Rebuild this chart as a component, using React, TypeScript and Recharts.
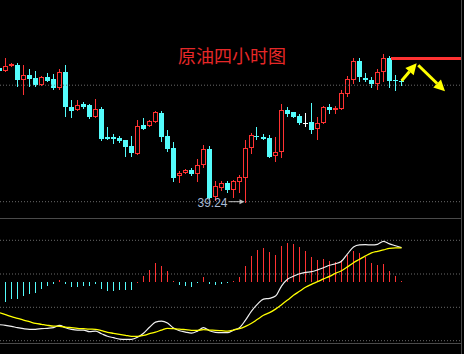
import React from 'react';
import { ComposedChart, Bar, Line, XAxis, YAxis, ReferenceLine, ReferenceDot } from 'recharts';

// ---- Candle data (4-hour crude oil) ----
const OPEN = [
  41.91, 41.86, 41.95, 41.97, 41.68, 41.77, 41.71, 41.58, 41.73, 41.69,
  41.51, 41.83, 41.13, 41.08, 41.20, 41.18, 40.94, 41.09, 40.53, 40.54,
  40.51, 40.47, 40.35, 40.20, 40.78, 40.75, 40.84, 41.01, 40.55, 40.31,
  39.75, 39.81, 39.87, 39.80, 39.98, 40.29, 39.33, 39.51, 39.61, 39.47,
  39.63, 39.72, 40.31, 40.55, 40.53, 40.51, 40.15, 40.23, 41.07, 41.03,
  40.95, 40.82, 40.83, 40.69, 40.81, 41.13, 41.08, 41.10, 41.40, 41.68,
  42.05, 41.72, 41.67, 41.60, 41.83, 42.11, 41.67, 41.65,
];
const CLOSE = [
  41.86, 41.95, 41.99, 41.67, 41.77, 41.70, 41.57, 41.73, 41.66, 41.52,
  41.83, 41.14, 41.06, 41.17, 41.14, 40.94, 41.09, 40.50, 40.50, 40.50,
  40.45, 40.34, 40.21, 40.75, 40.70, 40.85, 41.03, 40.54, 40.29, 39.71,
  39.82, 39.87, 39.80, 39.97, 40.29, 39.31, 39.55, 39.61, 39.47, 39.65,
  39.73, 40.31, 40.57, 40.53, 40.50, 40.14, 40.23, 41.07, 40.99, 40.94,
  40.82, 40.82, 40.68, 40.81, 41.13, 41.07, 41.11, 41.41, 41.69, 42.05,
  41.74, 41.68, 41.60, 41.83, 42.11, 41.66, 41.65, 41.63,
];
const HIGH = [
  41.93, 42.11, 42.01, 42.01, 41.97, 41.89, 41.85, 41.75, 41.81, 41.79,
  41.89, 41.97, 41.27, 41.27, 41.23, 41.20, 41.29, 41.13, 40.73, 40.59,
  40.56, 40.47, 40.55, 40.87, 40.91, 40.87, 41.05, 41.05, 40.67, 40.43,
  39.86, 39.89, 39.91, 40.09, 40.38, 40.35, 39.65, 39.65, 39.65, 39.68,
  39.77, 40.47, 40.61, 40.73, 40.59, 40.57, 40.53, 41.19, 41.13, 41.03,
  41.00, 41.01, 41.21, 40.93, 41.16, 41.19, 41.16, 41.47, 41.75, 42.11,
  42.11, 41.81, 41.73, 41.89, 42.19, 42.15, 41.78, 41.70,
];
const LOW = [
  41.85, 41.86, 41.95, 41.56, 41.39, 41.56, 41.56, 41.57, 41.66, 41.50,
  41.49, 40.96, 40.93, 41.08, 41.12, 40.92, 40.94, 40.47, 40.50, 40.41,
  40.43, 40.16, 40.16, 40.20, 40.70, 40.75, 40.83, 40.46, 40.26, 39.66,
  39.64, 39.81, 39.78, 39.66, 39.94, 39.31, 39.27, 39.47, 39.44, 39.33,
  39.43, 39.24, 40.22, 40.49, 40.50, 40.14, 40.06, 40.13, 40.96, 40.94,
  40.79, 40.76, 40.62, 40.50, 40.81, 41.02, 41.02, 41.10, 41.35, 41.62,
  41.65, 41.66, 41.54, 41.50, 41.66, 41.53, 41.47, 41.58,
];

// ---- MACD ----
const DIF = [
  -0.216, -0.219, -0.224, -0.231, -0.236, -0.239, -0.239, -0.236, -0.234, -0.231,
  -0.219, -0.231, -0.239, -0.243, -0.243, -0.251, -0.248, -0.261, -0.274, -0.281,
  -0.288, -0.289, -0.289, -0.279, -0.259, -0.229, -0.203, -0.198, -0.208, -0.233,
  -0.246, -0.253, -0.258, -0.248, -0.231, -0.246, -0.254, -0.256, -0.256, -0.243,
  -0.231, -0.193, -0.148, -0.113, -0.088, -0.084, -0.073, -0.023, 0.011, 0.026,
  0.039, 0.046, 0.049, 0.058, 0.069, 0.081, 0.089, 0.101, 0.138, 0.173,
  0.183, 0.184, 0.183, 0.186, 0.201, 0.188, 0.179, 0.169,
];
const DEA = [
  -0.156, -0.166, -0.176, -0.184, -0.193, -0.201, -0.209, -0.214, -0.219, -0.223,
  -0.224, -0.228, -0.231, -0.234, -0.236, -0.238, -0.239, -0.246, -0.254, -0.259,
  -0.264, -0.269, -0.274, -0.274, -0.269, -0.261, -0.253, -0.243, -0.234, -0.236,
  -0.238, -0.241, -0.244, -0.244, -0.241, -0.243, -0.244, -0.246, -0.248, -0.243,
  -0.236, -0.224, -0.209, -0.189, -0.169, -0.156, -0.138, -0.116, -0.093, -0.069,
  -0.049, -0.029, -0.014, -0.001, 0.013, 0.026, 0.041, 0.054, 0.073, 0.094,
  0.111, 0.128, 0.143, 0.151, 0.158, 0.166, 0.168, 0.168,
];
const MACD_HIST = [
  -0.110, -0.101, -0.088, -0.088, -0.073, -0.061, -0.056, -0.038, -0.021, -0.013,
  0.008, -0.013, -0.028, -0.028, -0.023, -0.023, -0.013, -0.038, -0.048, -0.048,
  -0.043, -0.043, -0.043, 0, 0.029, 0.058, 0.093, 0.078, 0.053, 0.003,
  -0.018, -0.023, -0.028, -0.008, 0.023, -0.013, -0.018, -0.013, -0.008, 0.003,
  0.023, 0.078, 0.128, 0.158, 0.168, 0.148, 0.133, 0.178, 0.193, 0.188,
  0.173, 0.153, 0.123, 0.108, 0.113, 0.103, 0.098, 0.108, 0.133, 0.153,
  0.143, 0.123, 0.093, 0.083, 0.088, 0.053, 0.028, 0.003,
];

// ---- annotations / axes ----
const TITLE = '原油四小时图';
const PRICE_GRID = [41.57, 39.24];
const MACD_GRID = [0.206, 0.0375, -0.129, -0.296];
const RESISTANCE = { from: 65.25, price: 42.11 };
const ARROWS = [
  { from: [67.03, 41.66], to: [69.53, 42.01] },
  { from: [69.8, 41.97], to: [74.25, 41.45] },
];
const X_DOMAIN: [number, number] = [1 / 12, 77 + 1 / 12];
const PRICE_DOMAIN: [number, number] = [38.914, 43.274];
const MACD_DOMAIN: [number, number] = [-0.3075, 0.3175];

const RED = '#ff3232';
const CYAN = '#54fcfc';
const GRID = '#6a6a6a';
const FRAME = '#4a4a4a';

const candles = OPEN.map((o, i) => ({
  i,
  open: o,
  close: CLOSE[i],
  high: HIGH[i],
  low: LOW[i],
}));
const macd = DIF.map((d, i) => ({ i, dif: d, dea: DEA[i], hist: MACD_HIST[i] }));

const lowIdx = LOW.indexOf(Math.min(...LOW));

function Candle(props: any) {
  const { x, y, width, height, payload } = props;
  if (!payload || x == null || y == null) return null;
  const { open, close, high, low } = payload;
  const span = high - low;
  const k = span > 0 ? height / span : 0;
  const yO = y + (high - open) * k;
  const yC = y + (high - close) * k;
  const top = Math.round(Math.min(yO, yC));
  const bot = Math.round(Math.max(yO, yC));
  const X = Math.round(x);
  const w = Math.round(width);
  const cx = X + (w - 1) / 2 + 0.5;
  const yH = Math.round(y);
  const yL = Math.round(y + height);
  const up = close > open;
  const doji = close === open;
  const color = doji ? '#ffffff' : up ? RED : CYAN;
  if (doji || bot - top < 1) {
    return (
      <g shapeRendering="crispEdges">
        <line x1={cx} x2={cx} y1={yH} y2={yL + 1} stroke={color} />
        <rect x={X} y={top} width={w} height={1} fill={color} />
      </g>
    );
  }
  if (up) {
    return (
      <g shapeRendering="crispEdges">
        <line x1={cx} x2={cx} y1={yH} y2={top} stroke={color} />
        <line x1={cx} x2={cx} y1={bot} y2={yL + 1} stroke={color} />
        <rect x={X + 0.5} y={top + 0.5} width={w - 1} height={Math.max(bot - top - 1, 0)} fill="#000" stroke={color} />
      </g>
    );
  }
  return (
    <g shapeRendering="crispEdges">
      <line x1={cx} x2={cx} y1={yH} y2={yL + 1} stroke={color} />
      <rect x={X} y={top} width={w} height={bot - top} fill={color} />
    </g>
  );
}

function HistBar(props: any) {
  const { x, y, width, height, payload } = props;
  if (!payload || x == null || y == null || height == null) return null;
  const y0 = Math.round(Math.min(y, y + height));
  const y1 = Math.round(Math.max(y, y + height));
  const h = Math.max(y1 - y0, 1);
  const X = Math.round(x + width / 2 - 0.5);
  return (
    <rect
      x={X}
      y={y0}
      width={1}
      height={h}
      fill={payload.hist >= 0 ? RED : CYAN}
      shapeRendering="crispEdges"
    />
  );
}

function ArrowShape(props: any) {
  const { x1, y1, x2, y2 } = props;
  if ([x1, y1, x2, y2].some((v) => v == null || isNaN(v))) return null;
  const a = Math.atan2(y2 - y1, x2 - x1);
  const L = 11;
  const W = 5.5;
  const bx = x2 - L * Math.cos(a);
  const by = y2 - L * Math.sin(a);
  const px = -Math.sin(a) * W;
  const py = Math.cos(a) * W;
  return (
    <g>
      <line x1={x1} y1={y1} x2={bx} y2={by} stroke="#ffff00" strokeWidth={3} />
      <polygon points={`${x2},${y2} ${bx + px},${by + py} ${bx - px},${by - py}`} fill="#ffff00" />
    </g>
  );
}

function FlatLine(props: any) {
  const { x1, y1, x2 } = props;
  if (x1 == null || y1 == null || x2 == null) return null;
  const yy = Math.round(y1 - 1.5);
  return <rect x={Math.round(x1)} y={yy} width={Math.round(x2 - x1)} height={3} fill={RED} shapeRendering="crispEdges" />;
}

function LowMark(props: any) {
  const { cx, cy } = props;
  if (cx == null || cy == null) return null;
  return (
    <g>
      <text
        x={cx - 18}
        y={cy + 5}
        textAnchor="end"
        fontFamily="'Liberation Sans', Arial, sans-serif"
        fontSize={12}
        fill="#a9bcd6"
      >
        {LOW[lowIdx].toFixed(2)}
      </text>
      <line x1={cx - 16.5} y1={cy} x2={cx - 5} y2={cy} stroke="#c0c0c0" strokeWidth={1} />
      <polygon points={`${cx - 1},${cy} ${cx - 6},${cy - 2.5} ${cx - 6},${cy + 2.5}`} fill="#c0c0c0" />
    </g>
  );
}

export default function App() {
  return (
    <div
      style={{
        position: 'absolute',
        left: 0,
        top: 0,
        width: 464,
        height: 354,
        background: '#000',
        overflow: 'hidden',
      }}
    >
      <div style={{ position: 'absolute', left: 0, top: 0 }}>
        <ComposedChart width={462} height={218} data={candles} margin={{ top: 0, right: 0, bottom: 0, left: 0 }}>
          <XAxis dataKey="i" type="number" domain={X_DOMAIN} allowDataOverflow hide />
          <YAxis type="number" domain={PRICE_DOMAIN} allowDataOverflow hide />
          {PRICE_GRID.map((p) => (
            <ReferenceLine key={p} y={p} stroke={GRID} strokeDasharray="1 2" ifOverflow="visible" />
          ))}
          <Bar
            dataKey={(d: any) => [d.low, d.high]}
            barSize={5}
            shape={<Candle />}
            isAnimationActive={false}
          />
          <ReferenceLine
            segment={[
              { x: RESISTANCE.from, y: RESISTANCE.price },
              { x: X_DOMAIN[1], y: RESISTANCE.price },
            ]}
            ifOverflow="visible"
            shape={FlatLine}
          />
          {ARROWS.map((a, k) => (
            <ReferenceLine
              key={k}
              segment={[
                { x: a.from[0], y: a.from[1] },
                { x: a.to[0], y: a.to[1] },
              ]}
              ifOverflow="visible"
              shape={ArrowShape}
            />
          ))}
          <ReferenceDot x={lowIdx} y={LOW[lowIdx]} r={0} ifOverflow="visible" shape={LowMark} />
        </ComposedChart>
      </div>

      <div
        style={{
          position: 'absolute',
          left: 178,
          top: 46,
          fontFamily: "'Noto Sans CJK SC', sans-serif",
          fontSize: 18,
          lineHeight: '18px',
          color: '#e62828',
          whiteSpace: 'nowrap',
        }}
      >
        {TITLE}
      </div>

      <div style={{ position: 'absolute', left: 0, top: 218 }}>
        <ComposedChart width={462} height={125} data={macd} margin={{ top: 0, right: 0, bottom: 0, left: 0 }}>
          <XAxis dataKey="i" type="number" domain={X_DOMAIN} allowDataOverflow hide />
          <YAxis type="number" domain={MACD_DOMAIN} allowDataOverflow hide />
          {MACD_GRID.map((v) => (
            <ReferenceLine key={v} y={v} stroke={GRID} strokeDasharray="1 2" ifOverflow="visible" />
          ))}
          <Bar dataKey="hist" barSize={1} shape={<HistBar />} isAnimationActive={false} />
          <Line dataKey="dif" type="monotone" stroke="#f0f0f0" strokeWidth={1.2} dot={false} isAnimationActive={false} />
          <Line dataKey="dea" type="monotone" stroke="#ffff00" strokeWidth={1.3} dot={false} isAnimationActive={false} />
        </ComposedChart>
      </div>

      <div style={{ position: 'absolute', left: 0, top: 218, width: 461, height: 1, background: FRAME }} />
      <div style={{ position: 'absolute', left: 0, top: 343, width: 461, height: 1, background: FRAME }} />
      <div style={{ position: 'absolute', left: 461, top: 0, width: 1, height: 354, background: FRAME }} />
    </div>
  );
}
